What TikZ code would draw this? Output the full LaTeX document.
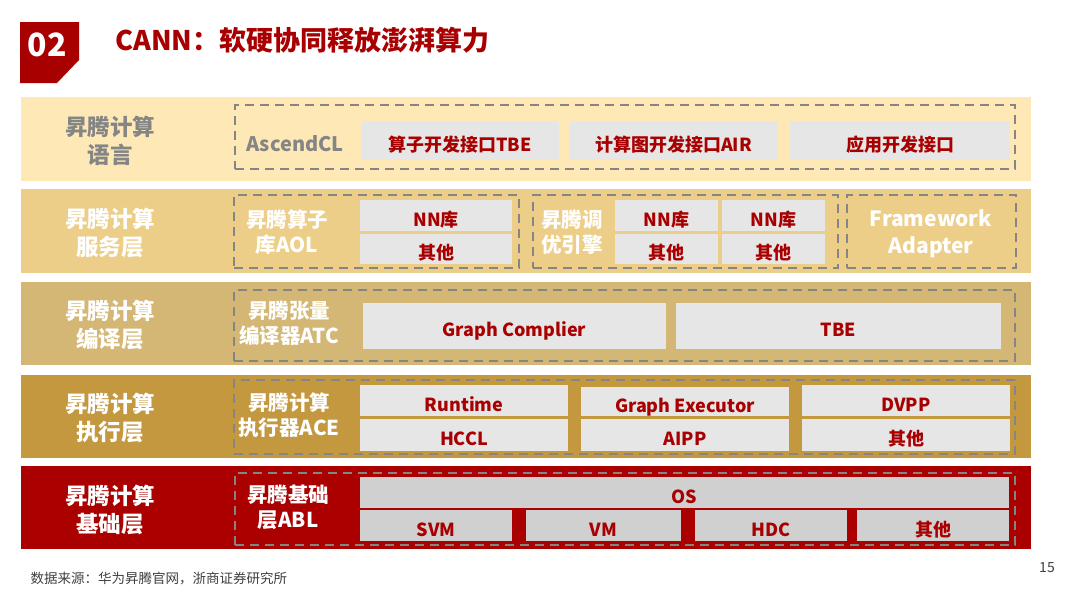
\documentclass[tikz,border=0pt]{standalone}
\usepackage{fontspec}
\setmainfont{Noto Sans CJK SC}
\usepackage{tikz}

\definecolor{titlered}{HTML}{A80000}
\definecolor{rowlang}{HTML}{FDE8B6}
\definecolor{rowserv}{HTML}{ECCE88}
\definecolor{rowcomp}{HTML}{D4B775}
\definecolor{rowexec}{HTML}{C4983E}
\definecolor{rowbase}{HTML}{AA0000}
\definecolor{cellgray}{HTML}{E6E6E6}
\definecolor{cellbase}{HTML}{D0D0D0}
\definecolor{dashgray}{HTML}{858585}
\definecolor{notegray}{HTML}{404040}

\tikzset{
  cell/.style={fill=cellgray, inner sep=0pt, text=titlered,
    font=\bfseries\fontsize{18}{20}\selectfont},
  dbox/.style={draw=dashgray, line width=2.6pt, dash pattern=on 9pt off 6pt, inner sep=0pt},
  rowlabel/.style={align=center, text=white, font=\bfseries\fontsize{22.5}{28}\selectfont},
  sublabel/.style={align=center, text=white, font=\bfseries\fontsize{20.5}{25}\selectfont}
}

% box from (x1,y1) to (x2,y2)
\newcommand{\cellbox}[6][]{%
  \node[cell, #1, minimum width={#4-#2}, minimum height={#5-#3}]
    (c#2#3) at ({(#2+#4)/2},{(#3+#5)/2}) {\raisebox{-10.5pt}[0pt][0pt]{#6}};}
\newcommand{\dashframe}[5]{%
  \node[dbox, minimum width={#4-#2}, minimum height={#5-#3}]
    (#1) at ({(#2+#4)/2},{(#3+#5)/2}) {};}

\begin{document}
\begin{tikzpicture}[x=1pt, y=-1pt]
  \useasboundingbox[fill=white] (0,0) rectangle (1080,608);

  % kopfzeile
  \fill[titlered] (20,22) -- (79,22) -- (79,60) -- (57,83) -- (20,83) -- cycle;
  \node[text=white, font=\bfseries\fontsize{32}{32}\selectfont] (num) at (47,45) {02};
  \node[anchor=west, text=titlered, font=\bfseries\fontsize{27}{27}\selectfont] (title) at (112,40)
    {CANN：软硬协同释放澎湃算力};

  % schichten
  \fill[rowlang] (21,97) rectangle (1031,181);
  \fill[rowserv] (21,189) rectangle (1031,273);
  \fill[rowcomp] (21,282) rectangle (1031,365);
  \fill[rowexec] (21,375) rectangle (1031,458);
  \fill[rowbase] (21,466) rectangle (1031,549);

  % linke beschriftung
  \node[rowlabel, text=dashgray] (lang) at (110,141) {昇腾计算\\语言};
  \node[rowlabel] (serv) at (110,233) {昇腾计算\\服务层};
  \node[rowlabel] (comp) at (110,325) {昇腾计算\\编译层};
  \node[rowlabel] (exec) at (110,418) {昇腾计算\\执行层};
  \node[rowlabel] (base) at (110,510) {昇腾计算\\基础层};

  % gestrichelte rahmen
  \dashframe{acl}{235}{105}{1015}{169}
  \dashframe{aol}{234}{195}{519}{268}
  \dashframe{tune}{533}{195}{838}{268}
  \dashframe{fwa}{847}{195}{1016}{268}
  \dashframe{atc}{234}{290}{1015}{361}
  \dashframe{ace}{234}{380}{1015}{454}
  \dashframe{abl}{235}{473}{1015}{545}

  % sprache
  \node[text=dashgray, font=\bfseries\fontsize{20}{20}\selectfont] (ascl) at (295,144) {AscendCL};
  \cellbox{361}{121}{559}{160}{算子开发接口TBE}
  \cellbox{569}{121}{778}{160}{计算图开发接口AIR}
  \cellbox{790}{121}{1010}{160}{应用开发接口}

  % dienste
  \node[sublabel] (aoltext) at (287,232) {昇腾算子\\库AOL};
  \cellbox{360}{200}{512}{231}{NN库}
  \cellbox{360}{234}{512}{264}{其他}
  \node[sublabel] (tunetext) at (572,232) {昇腾调\\优引擎};
  \cellbox{615}{200}{718}{231}{NN库}
  \cellbox{615}{234}{718}{264}{其他}
  \cellbox{722}{200}{825}{231}{NN库}
  \cellbox{722}{234}{825}{264}{其他}
  \node[sublabel, font=\bfseries\fontsize{21}{27}\selectfont] (fwatext) at (931,234) {Framework\\Adapter};

  % compiler
  \node[sublabel] (atctext) at (289,323) {昇腾张量\\编译器ATC};
  \cellbox{363}{303}{666}{349}{Graph Complier}
  \cellbox{676}{303}{1001}{349}{TBE}

  % ausfuehrung
  \node[sublabel] (acetext) at (289,415) {昇腾计算\\执行器ACE};
  \cellbox{360}{385}{568}{416}{Runtime}
  \cellbox{360}{419}{568}{451}{HCCL}
  \cellbox{581}{387}{789}{416}{Graph Executor}
  \cellbox{581}{419}{789}{451}{AIPP}
  \cellbox{802}{385}{1010}{416}{DVPP}
  \cellbox{802}{419}{1010}{451}{其他}

  % basis
  \node[sublabel] (abltext) at (288,507) {昇腾基础\\层ABL};
  \cellbox[fill=cellbase]{360}{477}{1009}{508}{OS}
  \cellbox[fill=cellbase]{360}{510}{512}{541}{SVM}
  \cellbox[fill=cellbase]{526}{510}{681}{541}{VM}
  \cellbox[fill=cellbase]{695}{510}{847}{541}{HDC}
  \cellbox[fill=cellbase]{857}{510}{1009}{541}{其他}

  % fusszeile
  \node[anchor=west, text=notegray, font=\fontsize{13.5}{13.5}\selectfont] (src) at (27,578)
    {数据来源：华为昇腾官网，浙商证券研究所};
  \node[text=notegray, font=\fontsize{14}{14}\selectfont] (page) at (1047,568) {15};
\end{tikzpicture}
\end{document}
